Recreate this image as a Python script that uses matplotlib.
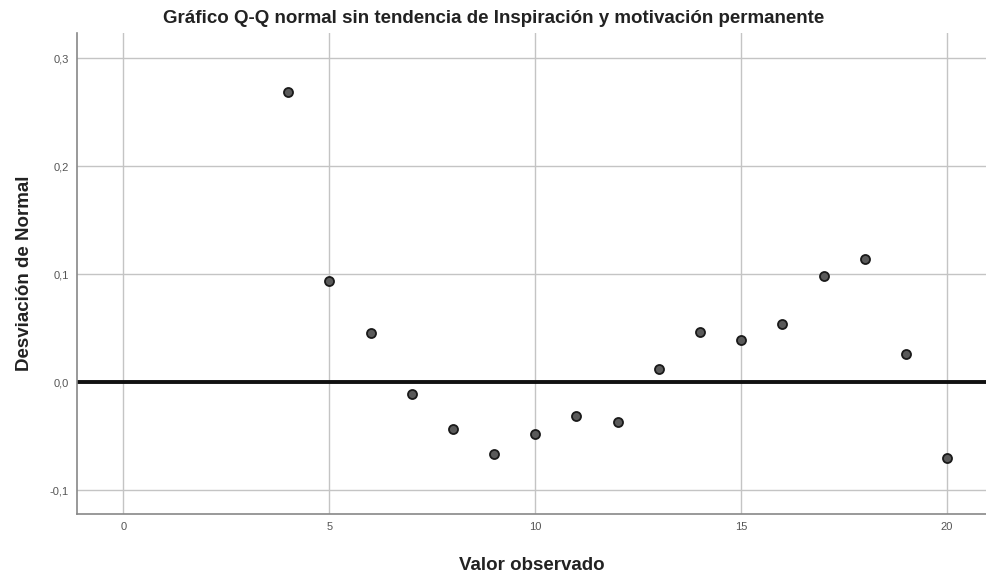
import matplotlib
matplotlib.use("Agg")
import matplotlib.pyplot as plt

plt.rcParams['font.family'] = ['Liberation Sans', 'DejaVu Sans']

# observed values and detrended deviation from normal
valor_observado = [4, 5, 6, 7, 8, 9, 10, 11, 12, 13, 14, 15, 16, 17, 18, 19, 20]
desviacion = [0.269, 0.094, 0.046, -0.011, -0.043, -0.066, -0.048, -0.031, -0.037,
              0.012, 0.047, 0.039, 0.054, 0.098, 0.114, 0.026, -0.070]

x_ticks = [0, 5, 10, 15, 20]
y_ticks = [-0.1, 0.0, 0.1, 0.2, 0.3]
y_labels = ['-0,1', '0,0', '0,1', '0,2', '0,3']

fig = plt.figure(figsize=(9.87, 5.79), dpi=100)
ax = fig.add_axes([0.0783, 0.1123, 0.9217, 0.8307])

ax.set_xlim(-1.12, 20.97)
ax.set_ylim(-0.122, 0.3235)

ax.set_xticks(x_ticks)
ax.set_xticklabels([str(t) for t in x_ticks])
ax.set_yticks(y_ticks)
ax.set_yticklabels(y_labels)
ax.tick_params(length=0, labelsize=8, labelcolor='#555555', pad=6)

ax.grid(True, color='#c4c4c4', linewidth=1.0)
ax.set_axisbelow(True)

for s in ['top', 'right']:
    ax.spines[s].set_visible(False)
for s in ['left', 'bottom']:
    ax.spines[s].set_color('#888888')
    ax.spines[s].set_linewidth(1.2)

ax.axhline(0, color='#111111', linewidth=2.8, zorder=2)

ax.plot(valor_observado, desviacion, 'o', markersize=6.5,
        markerfacecolor='#5a5a5a', markeredgecolor='#1a1a1a',
        markeredgewidth=1.3, zorder=3)

fig.text(0.5, 0.968, 'Gráfico Q-Q normal sin tendencia de Inspiración y motivación permanente',
         ha='center', va='center', fontsize=13.5, fontweight='bold', color='#222222')
ax.set_xlabel('Valor observado', fontsize=13.5, fontweight='bold', color='#222222', labelpad=18)
ax.set_ylabel('Desviación de Normal', fontsize=13.5, fontweight='bold', color='#222222', labelpad=12)

fig.savefig('out.png', dpi=100)
